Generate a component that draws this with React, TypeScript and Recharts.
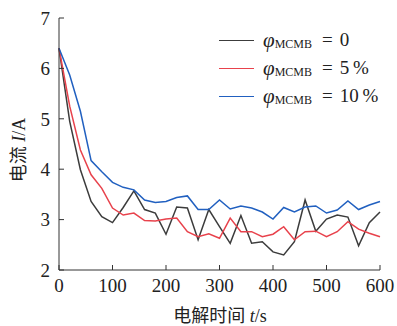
import React from "react";
import { LineChart, Line, XAxis, YAxis } from "recharts";

const times = [
  0, 20, 40, 60, 80, 100, 120, 140, 160, 180, 200, 220, 240, 260, 280, 300,
  320, 340, 360, 380, 400, 420, 440, 460, 480, 500, 520, 540, 560, 580, 600,
];
const current0 = [
  6.4, 4.95, 3.99, 3.36, 3.06, 2.94, 3.24, 3.57, 3.2, 3.13, 2.71, 3.25, 3.23,
  2.6, 3.2, 2.86, 2.53, 3.08, 2.53, 2.56, 2.36, 2.3, 2.56, 3.39, 2.77, 3.01,
  3.09, 3.05, 2.48, 2.94, 3.15,
];
const current5 = [
  6.4, 5.25, 4.38, 3.89, 3.62, 3.23, 3.09, 3.13, 2.98, 2.97, 3.01, 3.03, 2.76,
  2.66, 2.72, 2.63, 3.03, 2.76, 2.76, 2.66, 2.71, 2.86, 2.6, 2.76, 2.77, 2.66,
  2.76, 2.96, 2.81, 2.73, 2.66,
];
const current10 = [
  6.4, 5.87, 5.15, 4.17, 3.95, 3.74, 3.64, 3.59, 3.39, 3.34, 3.36, 3.44, 3.47,
  3.2, 3.2, 3.39, 3.21, 3.27, 3.23, 3.15, 3.01, 3.24, 3.15, 3.25, 3.27, 3.13,
  3.19, 3.37, 3.2, 3.29, 3.36,
];
const xTicks = [0, 100, 200, 300, 400, 500, 600];
const yTicks = [2, 3, 4, 5, 6, 7];
const seriesLabels = ["0", "5\u2009%", "10\u2009%"];

const COLORS = ["#3c3c3c", "#e8424c", "#2160c0"];
const FONT = "'Liberation Serif', 'Noto Sans CJK SC', serif";

const data = times.map((t, i) => ({
  t,
  s0: current0[i],
  s5: current5[i],
  s10: current10[i],
}));

function LegendBox() {
  return (
    <div
      style={{
        position: "absolute",
        left: 219,
        top: 26,
        fontFamily: FONT,
        fontSize: 19,
        color: "#222",
      }}
    >
      {seriesLabels.map((lab, i) => (
        <div
          key={lab}
          style={{ display: "flex", alignItems: "center", height: 28 }}
        >
          <div
            style={{
              width: 35,
              height: 0,
              borderTop: `1.5px solid ${COLORS[i]}`,
              marginRight: 9,
            }}
          />
          <span style={{ fontStyle: "italic", fontSize: 21 }}>φ</span>
          <span style={{ fontSize: 12, marginTop: 9, marginRight: 10 }}>MCMB</span>
          <span style={{ marginRight: 7 }}>=</span>
          <span>{lab}</span>
        </div>
      ))}
    </div>
  );
}

function YLabel() {
  return (
    <text
      x={19}
      y={150}
      transform="rotate(-90 19 150)"
      textAnchor="middle"
      dominantBaseline="central"
      fontFamily={FONT}
      fontSize={18}
      fill="#222"
    >
      电流 <tspan fontStyle="italic">I</tspan>/A
    </text>
  );
}

function XLabel() {
  return (
    <text
      x={220}
      y={322}
      textAnchor="middle"
      fontFamily={FONT}
      fontSize={18}
      fill="#222"
    >
      电解时间 <tspan fontStyle="italic">t</tspan>/s
    </text>
  );
}

export default function App() {
  return (
    <div style={{ position: "absolute", left: 0, top: 0, background: "#fff" }}>
      <LineChart
        width={397}
        height={326}
        data={data}
        margin={{ top: 18, right: 17, bottom: 0, left: 0 }}
      >
        <XAxis
          dataKey="t"
          type="number"
          domain={[0, 600]}
          ticks={xTicks}
          height={56}
          tickSize={-5}
          tickMargin={14}
          stroke="#333"
          tick={{ fill: "#222", fontSize: 19, fontFamily: FONT }}
          label={<XLabel />}
        />
        <YAxis
          type="number"
          domain={[2, 7]}
          ticks={yTicks}
          width={59}
          tickSize={-5}
          tickMargin={14}
          stroke="#333"
          tick={{ fill: "#222", fontSize: 19, fontFamily: FONT }}
          label={<YLabel />}
        />
        <Line dataKey="s0" stroke={COLORS[0]} strokeWidth={1.5} dot={false} isAnimationActive={false} />
        <Line dataKey="s5" stroke={COLORS[1]} strokeWidth={1.5} dot={false} isAnimationActive={false} />
        <Line dataKey="s10" stroke={COLORS[2]} strokeWidth={1.5} dot={false} isAnimationActive={false} />
      </LineChart>
      <LegendBox />
    </div>
  );
}
